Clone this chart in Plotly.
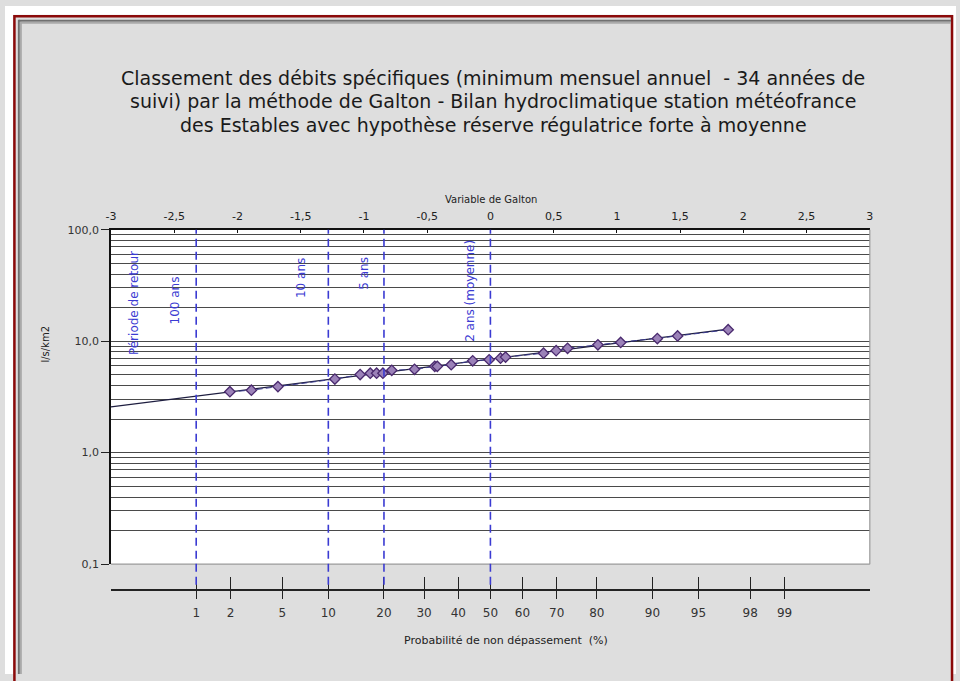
from statistics import NormalDist

import numpy as np
import plotly.graph_objects as go

W, H = 960, 681

# Années classées : variable réduite de Galton et débit spécifique minimum mensuel (l/s/km2)
galton_u = [-2.06, -1.89, -1.68, -1.23, -1.03, -0.95, -0.90, -0.85, -0.78, -0.60,
            -0.44, -0.42, -0.31, -0.14, -0.01, 0.08, 0.12, 0.42, 0.52, 0.61,
            0.85, 1.03, 1.32, 1.48, 1.88]
debit_specifique = [3.52, 3.63, 3.91, 4.57, 5.02, 5.16, 5.16, 5.16, 5.48, 5.59,
                    5.94, 5.94, 6.15, 6.67, 6.81, 7.04, 7.19, 7.79, 8.22, 8.63,
                    9.28, 9.74, 10.56, 11.13, 12.67]

# Graduations
galton_ticks = [-3, -2.5, -2, -1.5, -1, -0.5, 0, 0.5, 1, 1.5, 2, 2.5, 3]
galton_ticktext = ["-3", "-2,5", "-2", "-1,5", "-1", "-0,5", "0", "0,5", "1", "1,5", "2", "2,5", "3"]
proba_ticks_pct = [1, 2, 5, 10, 20, 30, 40, 50, 60, 70, 80, 90, 95, 98, 99]
debit_ticks = [0.1, 1, 10, 100]
debit_ticktext = ["0,1", "1,0", "10,0", "100,0"]
debit_minor = [m * d for d in (0.1, 1, 10) for m in range(2, 10)]

# Périodes de retour (années sèches) et leurs libellés
periodes_retour = [100, 10, 5, 2]
periode_labels = ["100 ans", "10 ans", "5 ans", "2 ans (moyenne)"]

norm = NormalDist()
proba_pos = [norm.inv_cdf(p / 100) for p in proba_ticks_pct]
periode_pos = [norm.inv_cdf(1 / t) for t in periodes_retour]


def fx(px):
    return px / W


def fy(py):
    return 1 - py / H


# Droite d'ajustement log-normale (moindres carrés sur log10 du débit)
pente, origine = np.polyfit(galton_u, np.log10(debit_specifique), 1)
ajust_x = [-3, max(galton_u)]
ajust_y = [10 ** (origine + pente * u) for u in ajust_x]

BLUE = "#3b3bd2"
FONT = "DejaVu Sans"

fig = go.Figure()

fig.add_trace(go.Scatter(
    x=ajust_x, y=ajust_y, mode="lines",
    line=dict(color="#1e1e40", width=1.3),
    hoverinfo="skip", showlegend=False,
))
fig.add_trace(go.Scatter(
    x=galton_u, y=debit_specifique, mode="lines+markers",
    line=dict(color="#3a3a8c", width=1, dash="6px,3px"),
    marker=dict(symbol="diamond", size=8, color="#9b82b8",
                line=dict(color="#4a2a6e", width=1.3)),
    showlegend=False,
))
# axes de probabilité (porteurs vides)
for ax in ("x2", "x3"):
    fig.add_trace(go.Scatter(x=[None], y=[None], xaxis=ax, yaxis="y",
                             showlegend=False, hoverinfo="skip"))

x_dom = [fx(107), fx(873)]
y_dom = [fy(569), fy(228)]
prob_axis_y = fy(595)

fig.update_layout(
    width=W, height=H,
    margin=dict(l=0, r=0, t=0, b=0),
    paper_bgcolor="#dedede",
    plot_bgcolor="white",
    font=dict(family=FONT, color="#222", size=11),
    xaxis=dict(
        domain=x_dom, range=[-3, 3], side="top", anchor="y",
        tickmode="array", tickvals=galton_ticks, ticktext=galton_ticktext,
        ticks="inside", ticklen=4, tickwidth=1.3, tickcolor="#111",
        showline=True, linecolor="#111", linewidth=1.5,
        showgrid=False, zeroline=False,
        tickfont=dict(size=11, color="#222"), ticklabelstandoff=3,
    ),
    xaxis2=dict(
        overlaying="x", anchor="free", position=prob_axis_y, side="bottom",
        domain=x_dom, range=[-3, 3],
        tickmode="array", tickvals=proba_pos, ticktext=[str(p) for p in proba_ticks_pct],
        ticks="inside", ticklen=12, tickwidth=1.3, tickcolor="#222",
        showline=True, linecolor="#222", linewidth=1.5,
        showgrid=False, zeroline=False,
        tickfont=dict(size=12, color="#333"), ticklabelstandoff=12,
    ),
    xaxis3=dict(
        overlaying="x", anchor="free", position=prob_axis_y, side="bottom",
        domain=x_dom, range=[-3, 3],
        tickmode="array", tickvals=proba_pos, showticklabels=False,
        ticks="outside", ticklen=8, tickwidth=1.3, tickcolor="#222",
        showline=False, showgrid=False, zeroline=False,
    ),
    yaxis=dict(
        domain=y_dom, type="log", range=[-1, 2], anchor="x",
        tickmode="array", tickvals=debit_ticks, ticktext=debit_ticktext,
        ticks="outside", ticklen=8, tickwidth=1.3, tickcolor="#222",
        showline=True, linecolor="#111", linewidth=1.6,
        showgrid=True, gridcolor="#4a4a4a", gridwidth=1.4,
        minor=dict(tickmode="array", tickvals=debit_minor, ticks="",
                   showgrid=True, gridcolor="#4a4a4a", gridwidth=1.4),
        zeroline=False,
        tickfont=dict(size=11, color="#333"),
    ),
)

shapes = [
    # bords extérieurs blancs et cadre rouge
    dict(type="rect", xref="paper", yref="paper", x0=0, x1=fx(8), y0=0, y1=1,
         fillcolor="white", line=dict(width=0), layer="below"),
    dict(type="rect", xref="paper", yref="paper", x0=0, x1=1, y0=fy(9), y1=1,
         fillcolor="white", line=dict(width=0), layer="below"),
    dict(type="rect", xref="paper", yref="paper", x0=fx(957), x1=1, y0=0, y1=1,
         fillcolor="white", line=dict(width=0), layer="below"),
    dict(type="rect", xref="paper", yref="paper", x0=fx(9.5), x1=fx(956), y0=fy(700), y1=fy(10.5),
         fillcolor="rgba(0,0,0,0)", line=dict(color="#8b0a0a", width=2.5), layer="below"),
    # biseau gris intérieur
    dict(type="line", xref="paper", yref="paper", x0=fx(14), x1=fx(14), y0=0, y1=fy(14),
         line=dict(color="#707070", width=2), layer="below"),
    dict(type="line", xref="paper", yref="paper", x0=fx(16), x1=fx(16), y0=0, y1=fy(16),
         line=dict(color="#a9a9a9", width=2), layer="below"),
    dict(type="line", xref="paper", yref="paper", x0=fx(14), x1=fx(955), y0=fy(15), y1=fy(15),
         line=dict(color="#707070", width=2), layer="below"),
    dict(type="line", xref="paper", yref="paper", x0=fx(16), x1=fx(955), y0=fy(17), y1=fy(17),
         line=dict(color="#a9a9a9", width=2), layer="below"),
    # bordure droite et basse de la zone de tracé
    dict(type="line", xref="paper", yref="paper", x0=x_dom[1], x1=x_dom[1], y0=y_dom[0], y1=y_dom[1],
         line=dict(color="#9a9a9a", width=1.2)),
    dict(type="line", xref="paper", yref="paper", x0=x_dom[0], x1=x_dom[1], y0=y_dom[0], y1=y_dom[0],
         line=dict(color="#9a9a9a", width=1.2)),
]
# verticales des périodes de retour
for u in periode_pos:
    shapes.append(dict(type="line", xref="x", yref="paper", x0=u, x1=u,
                       y0=fy(590), y1=y_dom[1],
                       line=dict(color=BLUE, width=1.6, dash="8px,5px")))
fig.update_layout(shapes=shapes)

annotations = []
title_lines = [
    "Classement des débits spécifiques (minimum mensuel annuel  - 34 années de",
    "suivi) par la méthode de Galton - Bilan hydroclimatique station météofrance",
    "des Estables avec hypothèse réserve régulatrice forte à moyenne",
]
for line, py in zip(title_lines, (73, 97, 121)):
    annotations.append(dict(text=line, xref="paper", yref="paper", x=fx(493), y=fy(py),
                            showarrow=False, xanchor="center", yanchor="middle",
                            font=dict(family=FONT, size=19, color="#1a1a1a")))
annotations.append(dict(text="Variable de Galton", xref="paper", yref="paper",
                        x=fx(491), y=fy(190), showarrow=False,
                        font=dict(size=10, color="#222")))
annotations.append(dict(text="Probabilité de non dépassement  (%)", xref="paper", yref="paper",
                        x=fx(506), y=fy(656), showarrow=False,
                        font=dict(size=11, color="#222")))
annotations.append(dict(text="l/s/km2", xref="paper", yref="paper",
                        x=fx(33), y=fy(345), showarrow=False, textangle=-90,
                        font=dict(size=10, color="#222")))
# libellés des périodes de retour
label_y = [300, 277, 272, 290]
label_shift = [-21, -28, -20, -20]
for u, txt, py, sh in zip(periode_pos, periode_labels, label_y, label_shift):
    annotations.append(dict(text=txt, xref="x", yref="paper", x=u, y=fy(py), xshift=sh,
                            showarrow=False, textangle=-90,
                            font=dict(size=12, color=BLUE)))
annotations.append(dict(text="Période de retour", xref="paper", yref="paper",
                        x=fx(121), y=fy(303), showarrow=False, textangle=-90,
                        font=dict(size=12, color=BLUE)))
fig.update_layout(annotations=annotations)

fig.write_html("out.html", config={"displayModeBar": False})
